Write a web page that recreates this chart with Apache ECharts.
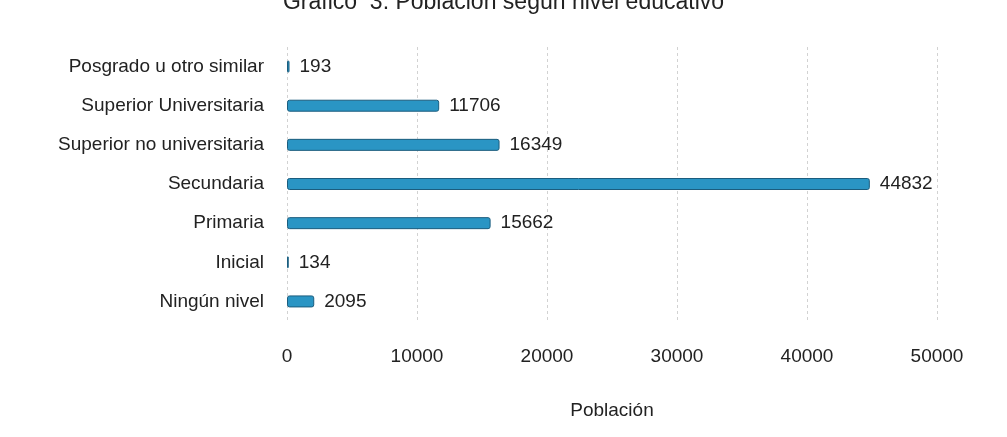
<!DOCTYPE html>
<html>
<head>
<meta charset="utf-8">
<script src="https://cdn.jsdelivr.net/npm/echarts@6/dist/echarts.min.js"></script>
<style>
  html, body { margin: 0; padding: 0; background: #fff; }
  #chart { width: 1007px; height: 437px; }
</style>
</head>
<body>
<div id="chart"></div>
<script>
// niveles, de abajo hacia arriba
var categories = ['Ningún nivel', 'Inicial', 'Primaria', 'Secundaria', 'Superior no universitaria', 'Superior Universitaria', 'Posgrado u otro similar']
var population = [2095, 134, 15662, 44832, 16349, 11706, 193]
var xTicks = [0, 10000, 20000, 30000, 40000, 50000]

var chart = echarts.init(document.getElementById('chart'))
var font = 'Liberation Sans, Arial, sans-serif'

chart.setOption({
  animation: false,
  textStyle: { fontFamily: font },
  title: {
    text: 'Gráfico  3: Población según nivel educativo',
    left: 'center',
    top: -14,
    textStyle: { fontSize: 23, fontWeight: 'normal', color: '#222', fontFamily: font }
  },
  grid: {
    left: 287,
    right: 70,
    top: 47,
    bottom: 116
  },
  xAxis: {
    type: 'value',
    min: xTicks[0],
    max: xTicks[xTicks.length - 1],
    interval: 10000,
    name: 'Población',
    nameLocation: 'middle',
    nameGap: 80,
    nameTextStyle: { fontSize: 19, color: '#222' },
    axisLine: { show: false },
    axisTick: { show: false },
    axisLabel: {
      fontSize: 19,
      color: '#222',
      margin: 26,
      formatter: function (v) { return String(v) }
    },
    splitLine: { lineStyle: { color: '#d2d2d2', type: [3, 3], width: 1 } }
  },
  yAxis: {
    type: 'category',
    data: categories,
    axisLine: { show: false },
    axisTick: { show: false },
    axisLabel: { fontSize: 19, color: '#222', margin: 23 }
  },
  series: [{
    type: 'bar',
    data: population,
    barWidth: 12,
    itemStyle: {
      color: '#2a95c4',
      borderColor: '#1b5d7e',
      borderWidth: 1,
      borderRadius: 2
    },
    label: {
      show: true,
      position: 'right',
      distance: 10,
      fontSize: 19,
      color: '#222'
    }
  }]
})
</script>
</body>
</html>
